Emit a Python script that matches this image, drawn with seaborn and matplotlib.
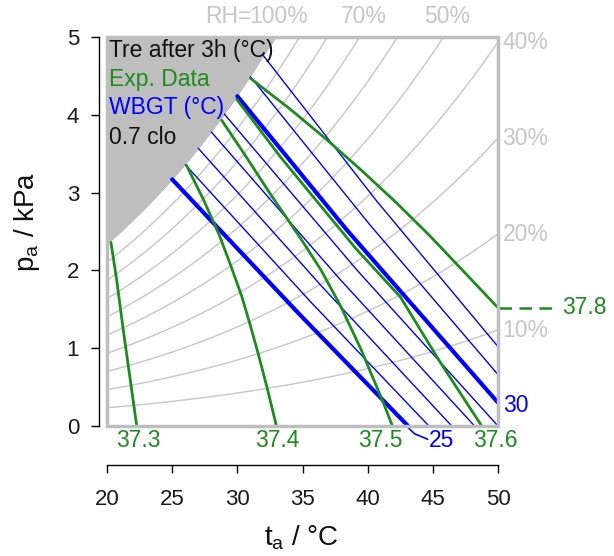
import numpy as np
import pandas as pd
import matplotlib
matplotlib.use('Agg')
import matplotlib.pyplot as plt
import seaborn as sns
from matplotlib.patches import Rectangle

# saturation vapour pressure table (kPa) at 20..50 degC
ta_grid = list(range(20, 51))
ps_kpa = [2.339, 2.487, 2.645, 2.810, 2.985, 3.169, 3.363, 3.567, 3.782, 4.008,
          4.246, 4.495, 4.758, 5.034, 5.323, 5.627, 5.945, 6.280, 6.630, 6.997,
          7.381, 7.784, 8.205, 8.646, 9.108, 9.590, 10.09, 10.62, 11.17, 11.74, 12.34]
rh_levels = [0.1, 0.2, 0.3, 0.4, 0.5, 0.6, 0.7, 0.8, 0.9, 1.0]
rh_top_labels = ['RH=100%', '70%', '50%']
rh_top_values = [1.0, 0.7, 0.5]
rh_right_labels = ['40%', '30%', '20%', '10%']
rh_right_values = [0.4, 0.3, 0.2, 0.1]

# WBGT lines (degC)
wbgt_levels = [25, 26, 27, 28, 29, 30, 31, 32]
wbgt_ta = [[25.0, 34.8, 43.1], [26.0, 35.6, 44.7], [27.0, 36.45, 46.45], [28.0, 37.8, 48.2],
           [29.0, 39.2, 50.0], [30.0, 38.4, 50.0], [31.0, 40.1, 50.0], [32.0, 40.65, 50.0]]
wbgt_pa = [[3.17, 1.43, 0.0], [3.36, 1.6, 0.0], [3.57, 1.8, 0.0], [3.78, 1.9, 0.0],
           [4.01, 2.0, 0.0], [4.24, 2.52, 0.30], [4.49, 2.6, 0.66], [4.76, 2.9, 1.02]]

# rectal temperature after 3 h, experimental iso-lines
tre_levels = ['37.3', '37.4', '37.5', '37.6', '37.8']
tre_ta = [[20.3, 20.74, 21.25, 22.28],
          [26.1, 27.4, 28.6, 29.5, 30.35, 31.0, 31.6, 32.3, 33.0],
          [28.8, 30.6, 32.5, 34.9, 36.4, 37.9, 39.5, 41.2, 41.9],
          [29.95, 33.3, 35.8, 39.1, 42.5, 45.6, 48.75],
          [31.0, 34.0, 36.73, 39.5, 42.2, 44.8, 50.0]]
tre_pa = [[2.36, 1.88, 1.23, 0.0],
          [3.35, 2.91, 2.46, 2.06, 1.66, 1.29, 0.93, 0.48, 0.0],
          [3.93, 3.48, 2.99, 2.40, 2.01, 1.55, 0.98, 0.30, 0.0],
          [4.20, 3.46, 2.95, 2.28, 1.66, 0.81, 0.0],
          [4.47, 4.08, 3.70, 3.29, 2.87, 2.44, 1.52]]

sns.set_style('white')
plt.rcParams['font.family'] = ['Liberation Sans', 'DejaVu Sans']
plt.rcParams['mathtext.fontset'] = 'custom'
plt.rcParams['mathtext.rm'] = 'Liberation Sans'

green = '#1E8B1E'
blue = '#0000FF'
light = '#C6C6C6'

fig = plt.figure(figsize=(6.14, 5.56), dpi=100)
ax = fig.add_axes([0.1743, 0.2338, 0.6368, 0.6996])

ps = np.array(ps_kpa)
ta = np.array(ta_grid)

# RH curves
for rh in rh_levels:
    sns.lineplot(x=ta, y=rh * ps, ax=ax, color=light, lw=1.0, sort=False, estimator=None, zorder=1)

# region above saturation
ax.fill_between(ta, np.minimum(ps, 5), 5, color='#BEBEBE', lw=0, zorder=2)

# WBGT lines
for lvl, xs, ys in zip(wbgt_levels, wbgt_ta, wbgt_pa):
    sns.lineplot(x=xs, y=ys, ax=ax, color=blue, lw=3.0 if lvl in (25, 30) else 1.0,
                 sort=False, estimator=None, zorder=3)

# Tre iso-lines
for xs, ys in zip(tre_ta, tre_pa):
    sns.lineplot(x=xs, y=ys, ax=ax, color=green, lw=2.0, sort=False, estimator=None, zorder=4)

ax.set_xlim(20, 50)
ax.set_ylim(0, 5)
ax.set_xticks(range(20, 51, 5))
ax.set_yticks(range(0, 6))
ax.set_xlabel('')
ax.set_ylabel('')
for s in ['top', 'right']:
    ax.spines[s].set_visible(False)
for s in ['left', 'bottom']:
    ax.spines[s].set_color('black')
    ax.spines[s].set_linewidth(1.0)
ax.spines['left'].set_position(('outward', 6))
ax.spines['bottom'].set_position(('outward', 28))
ax.tick_params(axis='both', direction='out', length=6, width=1, color='black',
               labelsize=16, labelcolor='#1a1a1a', bottom=True, left=True)
ax.tick_params(axis='x', pad=11)
ax.tick_params(axis='y', pad=8)

# grey frame
ax.add_patch(Rectangle((0, 0), 1, 1, transform=ax.transAxes, fill=False,
                       edgecolor='#BEBEBE', lw=2.5, clip_on=False, zorder=6))

# legend-like text block
ax.text(20.15, 4.83, 'Tre after 3h (°C)', color='#111111', fontsize=16.5, va='center', zorder=7)
ax.text(20.15, 4.46, 'Exp. Data', color=green, fontsize=16.5, va='center', zorder=7)
ax.text(20.15, 4.09, 'WBGT (°C)', color=blue, fontsize=16.5, va='center', zorder=7)
ax.text(20.15, 3.71, '0.7 clo', color='#111111', fontsize=16.5, va='center', zorder=7)

# RH labels
for lab, rh in zip(rh_top_labels, rh_top_values):
    t_cross = np.interp(5.0 / rh, ps, ta)
    ax.text(t_cross + 0.3, 5.26, lab.replace('RH=', ''), color=light, fontsize=16.5,
            ha='center', va='center', clip_on=False)
    if lab.startswith('RH='):
        ax.text(t_cross + 0.3 - 2.1, 5.26, 'RH=', color=light, fontsize=16.5,
                ha='right', va='center', clip_on=False)
for lab, rh in zip(rh_right_labels, rh_right_values):
    ax.text(50.35, rh * ps[-1], lab, color=light, fontsize=16.5, ha='left', va='center',
            clip_on=False)

# Tre labels below the frame
tre_label_x = [22.4, 33.1, 41.0, 49.8]
for lab, x in zip(tre_levels[:4], tre_label_x):
    ax.text(x, -0.18, lab, color=green, fontsize=16.5, ha='center', va='center', clip_on=False)
ax.plot([50.1, 54.6], [1.52, 1.52], color=green, lw=1.8, ls=(0, (5, 3)), clip_on=False)
ax.text(54.9, 1.52, tre_levels[4], color=green, fontsize=16.5, ha='left', va='center', clip_on=False)

# WBGT labels
ax.plot([43.1, 43.6, 44.6], [-0.02, -0.1, -0.17], color=blue, lw=1.2, clip_on=False)
ax.text(45.7, -0.19, '25', color=blue, fontsize=16.5, ha='center', va='center', clip_on=False)
ax.text(50.4, 0.27, '30', color=blue, fontsize=16.5, ha='left', va='center', clip_on=False)

fig.text(301 / 614, 1 - 538 / 556, 't$_\\mathrm{a}$ / °C', fontsize=20, ha='center', va='center',
         color='#111111')
fig.text(27 / 614, 1 - 222 / 556, 'p$_\\mathrm{a}$ / kPa', fontsize=20, ha='center', va='center',
         rotation=90, color='#111111')

fig.savefig('out.png', dpi=100, facecolor='white')
